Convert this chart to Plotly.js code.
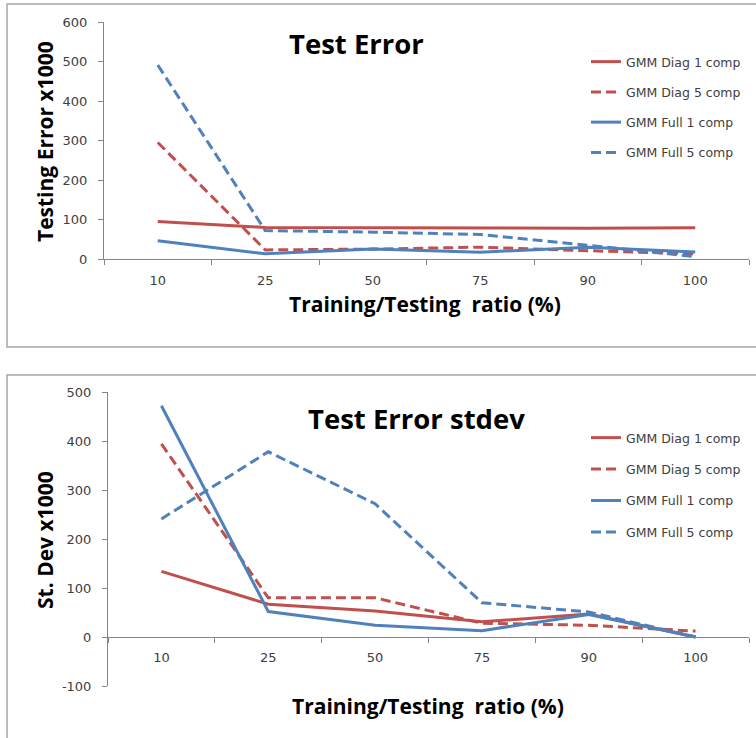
<!DOCTYPE html>
<html>
<head>
<meta charset="utf-8">
<script src="https://cdn.plot.ly/plotly-3.0.1.min.js"></script>
<style>html,body{margin:0;padding:0;background:#fff;}#chart{width:756px;height:738px;}</style>
</head>
<body>
<div id="chart"></div>
<script>
// ---- data ----
const categories = ['10', '25', '50', '75', '90', '100'];
const seriesNames = ['GMM Diag 1 comp', 'GMM Diag 5 comp', 'GMM Full 1 comp', 'GMM Full 5 comp'];

// Test Error (x1000)
const errDiag1 = [95, 80, 79, 78, 78, 79];
const errDiag5 = [295, 23, 25, 30, 21, 13];
const errFull1 = [46, 13, 25, 17, 30, 18];
const errFull5 = [491, 72, 68, 62, 35, 6];

// Test Error stdev (x1000)
const sdDiag1 = [134, 67, 53, 31, 47, 0];
const sdDiag5 = [394, 80, 80, 28, 24, 12];
const sdFull1 = [472, 52, 24, 13, 46, 0];
const sdFull5 = [241, 378, 272, 70, 51, 0];

const topTicks = [0, 100, 200, 300, 400, 500, 600];
const botTicks = [-100, 0, 100, 200, 300, 400, 500];

// ---- styling ----
const W = 756, H = 738;
const py = p => 1 - p / H;
const RED = '#C0504D', BLUE = '#4F81BD';
const DASH = '10px,5px';
const FAM = '"Open Sans", sans-serif';
const SMALLFAM = '"DejaVu Sans", sans-serif';
const styles = [
  {color: RED, dash: 'solid'},
  {color: RED, dash: DASH},
  {color: BLUE, dash: 'solid'},
  {color: BLUE, dash: DASH}
];

function mk(y, i, xa, ya, leg) {
  return {
    x: categories, y: y, type: 'scatter', mode: 'lines',
    name: seriesNames[i], xaxis: xa, yaxis: ya, legend: leg,
    legendgroup: leg + i,
    line: {color: styles[i].color, dash: styles[i].dash, width: 3},
    hoverinfo: 'x+y+name'
  };
}

const traces = [
  mk(errDiag1, 0, 'x', 'y', 'legend'),
  mk(errDiag5, 1, 'x', 'y', 'legend'),
  mk(errFull1, 2, 'x', 'y', 'legend'),
  mk(errFull5, 3, 'x', 'y', 'legend'),
  mk(sdDiag1, 0, 'x2', 'y2', 'legend2'),
  mk(sdDiag5, 1, 'x2', 'y2', 'legend2'),
  mk(sdFull1, 2, 'x2', 'y2', 'legend2'),
  mk(sdFull5, 3, 'x2', 'y2', 'legend2')
];

const AX = '#868686';
const TICKFONT = {family: SMALLFAM, size: 13, color: '#404040'};
const xBase = {
  type: 'category', range: [-0.5, 5.5], tickson: 'boundaries',
  ticks: 'outside', ticklen: 5, tickcolor: AX, showline: true, linecolor: AX,
  linewidth: 1, showgrid: false, zeroline: false, tickfont: TICKFONT,
  ticklabelstandoff: 9, fixedrange: true
};
const yBase = {
  ticks: 'outside', ticklen: 5, tickcolor: AX, showline: true, linecolor: AX,
  linewidth: 1, showgrid: false, zeroline: false, tickfont: TICKFONT,
  ticklabelstandoff: 8, fixedrange: true, tickmode: 'array'
};

const TITLEFONT = {family: FAM, size: 27.5, color: '#000', weight: 'bold'};
const AXTFONT = {family: FAM, size: 21, color: '#000', weight: 'bold'};
const LEGFONT = {family: SMALLFAM, size: 12.5, color: '#404040'};

const layout = {
  width: W, height: H,
  margin: {l: 0, r: 0, t: 0, b: 0},
  paper_bgcolor: '#fff', plot_bgcolor: '#fff',
  font: {family: FAM, color: '#404040'},
  xaxis: Object.assign({}, xBase, {domain: [104 / W, 749 / W], anchor: 'y'}),
  yaxis: Object.assign({}, yBase, {domain: [py(259), py(22)], range: [0, 600], anchor: 'x',
    tickvals: topTicks, ticktext: topTicks.map(String)}),
  xaxis2: Object.assign({}, xBase, {domain: [108 / W, 749 / W], anchor: 'free', position: py(636.7)}),
  yaxis2: Object.assign({}, yBase, {domain: [py(686), py(392)], range: [-100, 500], anchor: 'x2',
    tickvals: botTicks, ticktext: botTicks.map(String)}),
  legend: {x: 586 / W, xanchor: 'left', y: py(47), yanchor: 'top', bgcolor: 'rgba(0,0,0,0)',
    font: LEGFONT, tracegroupgap: 11, itemwidth: 30},
  legend2: {x: 586 / W, xanchor: 'left', y: py(423), yanchor: 'top', bgcolor: 'rgba(0,0,0,0)',
    font: LEGFONT, tracegroupgap: 12.2, itemwidth: 30},
  shapes: [
    {type: 'rect', xref: 'paper', yref: 'paper', x0: 7 / W, x1: 1.02, y0: py(347), y1: py(4),
      line: {color: '#a6a6a6', width: 1.5}, fillcolor: 'rgba(0,0,0,0)', layer: 'below'},
    {type: 'rect', xref: 'paper', yref: 'paper', x0: 7 / W, x1: 1.02, y0: -0.02, y1: py(375),
      line: {color: '#a6a6a6', width: 1.5}, fillcolor: 'rgba(0,0,0,0)', layer: 'below'}
  ],
  annotations: [
    {text: 'Test Error', xref: 'paper', yref: 'paper', x: 356 / W, y: py(44),
      showarrow: false, font: TITLEFONT, xanchor: 'center', yanchor: 'middle'},
    {text: 'Test Error stdev', xref: 'paper', yref: 'paper', x: 416 / W, y: py(418),
      showarrow: false, font: TITLEFONT, xanchor: 'center', yanchor: 'middle'},
    {text: 'Testing Error x1000', xref: 'paper', yref: 'paper', x: 45 / W, y: py(142),
      showarrow: false, textangle: -90, font: AXTFONT, xanchor: 'center', yanchor: 'middle'},
    {text: 'St. Dev x1000', xref: 'paper', yref: 'paper', x: 45 / W, y: py(540),
      showarrow: false, textangle: -90, font: AXTFONT, xanchor: 'center', yanchor: 'middle'},
    {text: 'Training/Testing&nbsp;&nbsp;ratio (%)', xref: 'paper', yref: 'paper', x: 425 / W, y: py(304),
      showarrow: false, font: AXTFONT, xanchor: 'center', yanchor: 'middle'},
    {text: 'Training/Testing&nbsp;&nbsp;ratio (%)', xref: 'paper', yref: 'paper', x: 428 / W, y: py(706),
      showarrow: false, font: AXTFONT, xanchor: 'center', yanchor: 'middle'}
  ]
};

Plotly.newPlot('chart', traces, layout, {displayModeBar: false, staticPlot: true});
</script>
</body>
</html>
